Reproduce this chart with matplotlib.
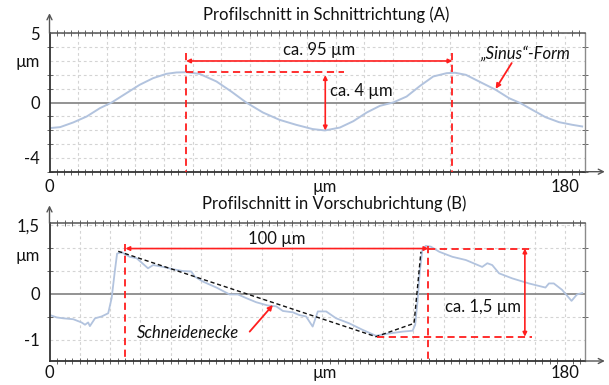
import matplotlib
matplotlib.use('Agg')
import matplotlib.pyplot as plt
import numpy as np
from matplotlib.ticker import MultipleLocator, FixedLocator

plt.rcParams['font.family'] = ['Lato', 'DejaVu Sans']

# ---------------- data ----------------
title_a = "Profilschnitt in Schnittrichtung (A)"
title_b = "Profilschnitt in Vorschubrichtung (B)"

a_x = [0, 3.7, 8.3, 13.0, 17.6, 21.7, 26.9, 31.5, 36.2, 40.8, 44.3, 47.7, 52.4, 58.3,
       63.5, 68.7, 74.5, 80.3, 86.1, 91.9, 96.2, 101.4, 106.1, 110.8, 115.4, 120.0,
       124.7, 129.4, 134.0, 138.7, 141.6, 145.4, 150.0, 155.8, 160.5, 164.5, 168.6,
       173.2, 177.9, 182.5, 186.0]
a_y = [-1.85, -1.78, -1.44, -1.01, -0.41, 0.0, 0.68, 1.28, 1.76, 2.07, 2.17, 2.19, 2.07,
       1.52, 0.79, 0.0, -0.72, -1.25, -1.61, -1.92, -2.02, -1.81, -1.35, -0.72, -0.24,
       0.0, 0.43, 1.2, 1.88, 2.12, 2.15, 2.0, 1.52, 0.92, 0.31, -0.05, -0.53, -1.06,
       -1.42, -1.61, -1.73]

b_x = [0.2, 2.5, 4.8, 8.3, 11.2, 12.4, 13.5, 14.1, 15.9, 18.2, 20.5, 21.7, 22.8, 23.6,
       25.2, 28.0, 30.4, 34.4, 36.2, 39.7, 43.1, 46.6, 49.5, 50.7, 53.6, 58.3, 62.9,
       65.8, 68.7, 72.2, 76.2, 79.2, 81.5, 85.0, 87.3, 89.6, 91.9, 93.7, 96.6, 100.1,
       104.7, 109.3, 114.0, 118.6, 123.3, 126.8, 127.7, 128.5, 129.3, 130.2, 131.4,
       133.2, 136.1, 140.7, 145.4, 151.1, 152.9, 154.6, 157.0, 161.6, 167.4, 173.2,
       174.4, 176.1, 179.0, 182.3, 184.2, 186.0]
b_y = [-0.46, -0.51, -0.53, -0.55, -0.62, -0.67, -0.62, -0.70, -0.53, -0.49, -0.42,
       -0.09, 0.49, 0.88, 0.91, 0.81, 0.78, 0.56, 0.63, 0.59, 0.54, 0.50, 0.49, 0.38,
       0.27, 0.14, -0.01, -0.01, -0.09, -0.18, -0.25, -0.27, -0.37, -0.40, -0.46, -0.49,
       -0.71, -0.38, -0.38, -0.53, -0.64, -0.78, -0.91, -0.86, -0.82, -0.80, -0.67,
       -0.17, 0.49, 0.96, 1.05, 1.03, 0.92, 0.81, 0.74, 0.59, 0.67, 0.63, 0.45, 0.34,
       0.23, 0.14, 0.23, 0.23, 0.09, -0.15, -0.01, 0.02]

# cutting-edge (Schneidenecke) outline
knife_x = [24.0, 114.0, 127.3, 129.7]
knife_y = [0.93, -0.93, -0.64, 0.92]

# tick labels
a_ytick_pos = [5, 3, 0, -4]
a_ytick_lab = ["5", "µm", "0", "-4"]
b_ytick_pos = [1.5, 0.87, 0, -1]
b_ytick_lab = ["1,5", "µm", "0", "-1"]
xtick_pos = [0, 96, 180]
xtick_lab = ["0", "µm", "180"]

# annotation values
a_peak1, a_peak2, a_trough = 47.7, 140.7, 96.3
a_peak_y, a_trough_y = 2.19, -2.02
b_left, b_right = 26.5, 132.3
b_top_y, b_bot_y = 0.99, -0.93

# ---------------- style ----------------
RED = '#ff1e1e'
CURVE = '#b2c3de'
fig = plt.figure(figsize=(6.09, 3.85), dpi=100)
W, H = 609, 385

def px_axes(l, t, r, b):
    return fig.add_axes([l / W, 1 - b / H, (r - l) / W, (b - t) / H])

axA = px_axes(49.5, 33.3, 585, 171.7)
axB = px_axes(49.5, 223.3, 585, 361)

def style(ax, ylim, ygrid_step, xgrid, ypos, ylab, xpad, ytop_arrow):
    ax.set_xlim(0, 187)
    ax.set_ylim(*ylim)
    for g in xgrid:
        if 0 < g < 187:
            ax.axvline(g, color='#d4d4d4', lw=0.8, ls=(0, (2.5, 2.5)), zorder=0)
    yg = np.arange(np.ceil(ylim[0] / ygrid_step) * ygrid_step, ylim[1] + 1e-6, ygrid_step)
    for g in yg:
        if abs(g) > 1e-9:
            ax.axhline(g, color='#d4d4d4', lw=0.8, ls=(0, (2.5, 2.5)), zorder=0)
    ax.axhline(0, color='#8a8a8a', lw=1.3, zorder=1)
    # ticks
    ax.set_xticks(xtick_pos, xtick_lab)
    ax.set_yticks(ypos, ylab)
    ax.tick_params(axis='both', which='major', length=0, labelsize=12, colors='#111')
    ax.tick_params(axis='x', which='major', pad=xpad)
    ax.tick_params(axis='y', which='major', pad=7)
    step = (xgrid[1] - xgrid[0]) / 4
    ax.xaxis.set_minor_locator(MultipleLocator(step))
    ax.yaxis.set_minor_locator(FixedLocator(list(yg)))
    ax.tick_params(which='minor', direction='inout', length=4, width=0.7,
                   color='#666', top=True, bottom=True, left=True, right=True)
    ax.spines['left'].set_color('#333'); ax.spines['left'].set_linewidth(1.3)
    ax.spines['bottom'].set_color('#333'); ax.spines['bottom'].set_linewidth(1.3)
    ax.spines['top'].set_color('#555'); ax.spines['top'].set_linewidth(1.1)
    ax.spines['right'].set_color('#8a8a8a'); ax.spines['right'].set_linewidth(1.0)
    ax.annotate('', xy=(0, 1 + ytop_arrow), xytext=(0, 1), xycoords='axes fraction',
                arrowprops=dict(arrowstyle='->', color='#555', lw=1.0, shrinkA=0, shrinkB=0,
                                mutation_scale=9), annotation_clip=False)
    ax.annotate('', xy=(1.037, 0), xytext=(1, 0), xycoords='axes fraction',
                arrowprops=dict(arrowstyle='->', color='#555', lw=1.0, shrinkA=0, shrinkB=0,
                                mutation_scale=9), annotation_clip=False)

style(axA, (-5, 5), 1, np.arange(0, 190, 10), a_ytick_pos, a_ytick_lab, 5, 0.145)
style(axB, (-1.46, 1.54), 0.5, np.linspace(0, 180, 18), b_ytick_pos, b_ytick_lab, 3, 0.13)

fig.text(326 / W, 1 - 15 / H, title_a, ha='center', va='center', fontsize=12, color='#111')
fig.text(334 / W, 1 - 204 / H, title_b, ha='center', va='center', fontsize=12, color='#111')

# ---- panel A ----
axA.plot(a_x, a_y, color=CURVE, lw=1.4, solid_joinstyle='round', zorder=2)
dash = (0, (4, 2.5))
axA.plot([a_peak1, a_peak1], [3.57, -5], color=RED, lw=1.3, ls=dash, clip_on=False, zorder=3)
axA.plot([a_peak2, a_peak2], [3.57, -5], color=RED, lw=1.3, ls=dash, clip_on=False, zorder=3)
axA.plot([a_peak1, 103], [a_peak_y, a_peak_y], color=RED, lw=1.3, ls=dash, zorder=3)
axA.annotate('', xy=(a_peak2, 3.0), xytext=(a_peak1, 3.0),
             arrowprops=dict(arrowstyle='<|-|>', color=RED, lw=1.2, mutation_scale=6,
                             shrinkA=0, shrinkB=0), zorder=4)
axA.annotate('', xy=(a_trough, a_trough_y), xytext=(a_trough, 1.98),
             arrowprops=dict(arrowstyle='<|-|>', color=RED, lw=1.2, mutation_scale=6,
                             shrinkA=0, shrinkB=0), zorder=4)
axA.text(94, 3.8, "ca. 95 µm", ha='center', va='center', fontsize=12, color='#111')
axA.text(97.8, 0.8, "ca. 4 µm", ha='left', va='center', fontsize=12, color='#111')
axA.text(166.2, 3.5, "„Sinus“-Form", ha='center', va='center', fontsize=12,
         style='italic', color='#111')
axA.annotate('', xy=(155.8, 0.99), xytext=(161.4, 2.85),
             arrowprops=dict(arrowstyle='-|>', color=RED, lw=1.3, mutation_scale=7,
                             shrinkA=0, shrinkB=0))

# ---- panel B ----
axB.plot(b_x, b_y, color=CURVE, lw=1.3, solid_joinstyle='round', zorder=2)
axB.plot(knife_x, knife_y, color='#111', lw=1.0, ls=(0, (3, 2)), zorder=3)
axB.plot([b_left, b_left], [1.08, -1.46], color=RED, lw=1.3, ls=dash, clip_on=False, zorder=3)
axB.plot([b_right, b_right], [1.05, -1.46], color=RED, lw=1.3, ls=dash, clip_on=False, zorder=3)
axB.plot([b_right, 168.6], [b_top_y, b_top_y], color=RED, lw=1.3, ls=dash, zorder=3)
axB.plot([114.5, 168.6], [b_bot_y, b_bot_y], color=RED, lw=1.3, ls=dash, zorder=3)
axB.annotate('', xy=(b_right, b_top_y), xytext=(b_left, b_top_y),
             arrowprops=dict(arrowstyle='<|-|>', color=RED, lw=1.2, mutation_scale=6,
                             shrinkA=0, shrinkB=0), zorder=4)
axB.annotate('', xy=(166, b_bot_y), xytext=(166, b_top_y),
             arrowprops=dict(arrowstyle='<|-|>', color=RED, lw=1.2, mutation_scale=6,
                             shrinkA=0, shrinkB=0), zorder=4)
axB.text(79.3, 1.2, "100 µm", ha='center', va='center', fontsize=12, color='#111')
axB.text(138, -0.29, "ca. 1,5 µm", ha='left', va='center', fontsize=12, color='#111')
axB.text(30.4, -0.86, "Schneidenecke", ha='left', va='center', fontsize=12,
         style='italic', color='#111')
axB.annotate('', xy=(78.0, -0.24), xytext=(69.9, -0.82),
             arrowprops=dict(arrowstyle='-|>', color=RED, lw=1.3, mutation_scale=7,
                             shrinkA=0, shrinkB=0))

fig.savefig('out.png', dpi=100)
